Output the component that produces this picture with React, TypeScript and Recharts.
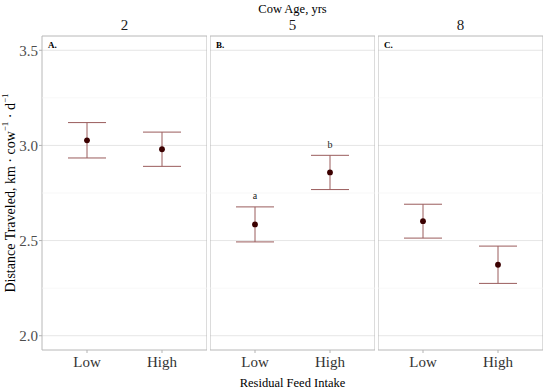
import { ComposedChart, Scatter, ErrorBar, XAxis, YAxis, CartesianGrid, ReferenceArea, ReferenceLine, LabelList, Label } from 'recharts';

const cowAges = ['2', '5', '8'];
const panelTags = ['A.', 'B.', 'C.'];
const rfiLevels = ['Low', 'High'];

const meansAge2 = [3.027, 2.98];
const seAge2 = [0.093, 0.09];
const meansAge5 = [2.585, 2.858];
const seAge5 = [0.092, 0.09];
const meansAge8 = [2.602, 2.373];
const seAge8 = [0.089, 0.098];
const lettersAge5 = ['a', 'b'];
const noLetters = ['', ''];

const yTicks = [2.0, 2.5, 3.0, 3.5];
const yMinor = [2.25, 2.75, 3.25];
const yDomain: [number, number] = [1.925, 3.575];
const xDomain: [number, number] = [0.4, 2.6];

const FONT = '"Liberation Serif", "Times New Roman", serif';
const BAR = '#9a5c5c';
const DOT = '#3b0000';

function buildRows(means: number[], se: number[], letters: string[]) {
  return means.map((m, i) => ({ x: i + 1, y: m, err: se[i], top: m + se[i], letter: letters[i] }));
}

const YTitle = (props: any) => {
  const vb = props.viewBox;
  const cx = vb.x + 10;
  const cy = vb.y + vb.height / 2;
  return (
    <text x={cx} y={cy} transform={`rotate(-90 ${cx} ${cy})`} textAnchor="middle" dominantBaseline="central"
          fontFamily={FONT} fontSize={14} fill="#000">
      Distance Traveled, km · cow
      <tspan fontSize={9} dy={-5}>−1</tspan>
      <tspan dy={5}> · d</tspan>
      <tspan fontSize={9} dy={-5}>−1</tspan>
    </text>
  );
};

function Panel({ idx, left, width, rows, showY }: { idx: number; left: number; width: number; rows: any[]; showY: boolean }) {
  const letterRows = rows.map((r) => ({ x: r.x, y: r.top, letter: r.letter }));
  return (
    <div style={{ position: 'absolute', left, top: 0 }}>
      <ComposedChart width={width} height={389} margin={{ top: 36, right: 0, bottom: 0, left: 0 }}>
        <CartesianGrid horizontal vertical={false} horizontalValues={yTicks} stroke="#e6e6e6" strokeWidth={1} />
        {yMinor.map((v) => (
          <ReferenceLine key={v} y={v} stroke="#f3f3f3" strokeWidth={0.7} />
        ))}
        <XAxis
          type="number"
          dataKey="x"
          domain={xDomain}
          allowDataOverflow
          ticks={[1, 2]}
          tickFormatter={(v) => rfiLevels[v - 1]}
          height={39}
          axisLine={false}
          tickLine={{ stroke: '#b3b3b3' }}
          tickSize={3}
          tickMargin={3}
          tick={{ fontFamily: FONT, fontSize: 15, fill: '#333' }}
        >
          {idx === 1 && (
            <Label value="Residual Feed Intake" position="insideBottom" offset={2}
                   style={{ fontFamily: FONT, fontSize: 12.5, fill: '#000' }} />
          )}
        </XAxis>
        <YAxis
          type="number"
          dataKey="y"
          domain={yDomain}
          allowDataOverflow
          ticks={yTicks}
          tickFormatter={(v) => v.toFixed(1)}
          hide={!showY}
          width={42}
          axisLine={false}
          tickLine={{ stroke: '#b3b3b3' }}
          tickSize={3}
          tickMargin={1}
          tick={{ fontFamily: FONT, fontSize: 15, fill: '#4d4d4d' }}
        >
          {showY && <Label content={YTitle} />}
        </YAxis>
        {/* facet strip label */}
        <ReferenceArea
          x1={xDomain[0]}
          x2={xDomain[1]}
          y1={yDomain[0]}
          y2={yDomain[1]}
          fill="none"
          stroke="none"
          label={{ value: cowAges[idx], position: 'top', offset: 6, fontFamily: FONT, fontSize: 15, fill: '#1a1a1a' }}
        />
        <ReferenceArea
          x1={xDomain[0]}
          x2={xDomain[1]}
          y1={yDomain[0]}
          y2={yDomain[1]}
          fill="none"
          stroke="#b8b8b8"
          strokeWidth={1}
          label={{ value: panelTags[idx], position: 'insideTopLeft', offset: 6, fontFamily: FONT, fontSize: 9, fontWeight: 'bold', fill: '#000' }}
        />
        <Scatter data={rows} isAnimationActive={false} shape={() => <g />}>
          <ErrorBar dataKey="err" direction="y" width={19} stroke={BAR} strokeWidth={1} isAnimationActive={false} />
        </Scatter>
        <Scatter
          data={rows}
          isAnimationActive={false}
          shape={(p: any) => <circle cx={p.cx} cy={p.cy} r={2.9} fill={DOT} />}
        />
        <Scatter data={letterRows} isAnimationActive={false} shape={() => <g />}>
          <LabelList dataKey="letter" position="top" offset={3} style={{ fontFamily: FONT, fontSize: 10, fill: '#222' }} />
        </Scatter>
      </ComposedChart>
    </div>
  );
}

export default function App() {
  return (
    <div style={{ position: 'absolute', left: 0, top: 0, width: 550, height: 389, background: '#fff', fontFamily: FONT }}>
      <div style={{ position: 'absolute', left: 42, width: 501, top: 1, textAlign: 'center', fontSize: 12.5, lineHeight: '16px', color: '#000' }}>
        Cow Age, yrs
      </div>
      <Panel idx={0} left={0} width={207} rows={buildRows(meansAge2, seAge2, noLetters)} showY />
      <Panel idx={1} left={210} width={165} rows={buildRows(meansAge5, seAge5, lettersAge5)} showY={false} />
      <Panel idx={2} left={378} width={165} rows={buildRows(meansAge8, seAge8, noLetters)} showY={false} />
    </div>
  );
}
